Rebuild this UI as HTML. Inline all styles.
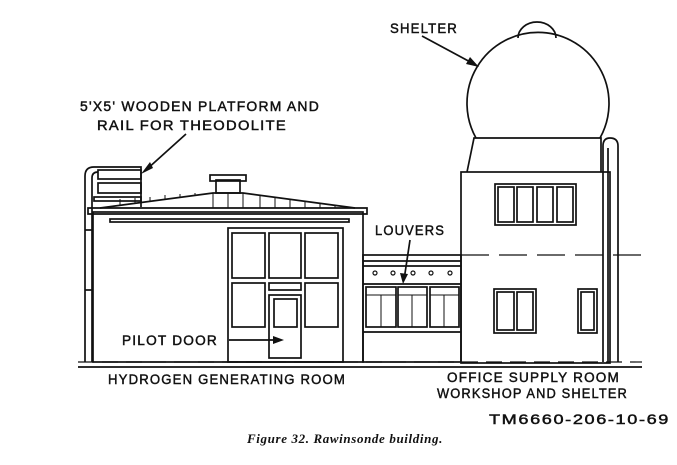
<!DOCTYPE html>
<html><head><meta charset="utf-8"><style>
html,body{margin:0;padding:0;background:#fff;}
svg{display:block}
text{font-family:"Liberation Sans",sans-serif;font-size:13.5px;fill:#111;stroke:#111;stroke-width:0.45;letter-spacing:1.2px}
</style></head><body>
<svg width="677" height="465" viewBox="0 0 677 465" xmlns="http://www.w3.org/2000/svg">
<g fill="none" stroke="#111" stroke-width="1.7">
<line x1="78" y1="367" x2="642" y2="367" stroke-width="1.8"/>
<line x1="78" y1="362" x2="642" y2="362" stroke-dasharray="16,8" stroke-width="1.2"/>
<rect x="93" y="212" width="270" height="150"/>
<path d="M88 208 L367 208 L367 214 L88 214 Z"/>
<path d="M100 208 L213 193 L243 193 L355 208"/>
<g stroke-width="1">
<line x1="120" y1="205" x2="120" y2="199"/><line x1="135" y1="203" x2="135" y2="198"/>
<line x1="150" y1="201" x2="150" y2="197"/><line x1="165" y1="199" x2="165" y2="195"/>
<line x1="180" y1="197" x2="180" y2="194"/><line x1="195" y1="195" x2="195" y2="193"/>
<line x1="228" y1="193" x2="228" y2="208"/><line x1="213" y1="193" x2="213" y2="208"/><line x1="243" y1="193" x2="243" y2="208"/>
<line x1="260" y1="195" x2="260" y2="208"/><line x1="275" y1="197" x2="275" y2="208"/>
<line x1="290" y1="199" x2="290" y2="208"/><line x1="305" y1="201" x2="305" y2="208"/>
<line x1="320" y1="203" x2="320" y2="208"/><line x1="335" y1="205" x2="335" y2="208"/>
</g>
<rect x="216" y="180" width="24" height="13"/>
<rect x="210" y="175" width="36" height="6"/>
<rect x="110" y="219" width="239" height="3"/>
<rect x="228" y="228" width="115" height="134"/>
<rect x="232" y="233" width="33" height="45"/><rect x="269" y="233" width="32" height="45"/><rect x="305" y="233" width="33" height="45"/>
<rect x="232" y="283" width="33" height="44"/><rect x="305" y="283" width="33" height="44"/>
<rect x="269" y="283" width="32" height="7"/>
<rect x="269" y="295" width="32" height="63"/>
<rect x="274" y="299" width="23" height="28"/>
<path d="M85 362 L85 176 Q85 167 94 167 L141 167 L141 207"/>
<path d="M92 362 L92 178 Q92 172 98 172"/>
<rect x="98" y="170" width="43" height="9"/>
<rect x="98" y="183" width="43" height="10"/>
<rect x="94" y="197" width="47" height="4"/>
<line x1="85" y1="230" x2="93" y2="230"/><line x1="85" y1="290" x2="93" y2="290"/>
<rect x="363" y="255" width="98" height="107"/>
<line x1="363" y1="261" x2="461" y2="261"/>
<line x1="363" y1="266" x2="461" y2="266"/>
<g stroke-width="1.2">
<circle cx="375" cy="273" r="2"/><circle cx="393" cy="273" r="2"/><circle cx="413" cy="273" r="2"/><circle cx="431" cy="273" r="2"/><circle cx="450" cy="273" r="2"/>
</g>
<line x1="363" y1="284" x2="461" y2="284"/>
<rect x="366" y="287" width="30" height="40"/><rect x="398" y="287" width="29" height="40"/><rect x="430" y="287" width="29" height="40"/>
<g stroke-width="1">
<line x1="366" y1="295" x2="396" y2="295"/><line x1="398" y1="295" x2="427" y2="295"/><line x1="430" y1="295" x2="459" y2="295"/>
<line x1="381" y1="295" x2="381" y2="327"/><line x1="412" y1="295" x2="412" y2="327"/><line x1="444" y1="295" x2="444" y2="327"/>
</g>
<line x1="363" y1="332" x2="461" y2="332"/>
<rect x="461" y="172" width="149" height="191"/>
<path d="M467 172 L474 138 L601 138 L601 172"/>
<path d="M476 138 A71 71 0 1 1 600 138"/>
<path d="M518 38 A19 16 0 0 1 556 38"/>
<rect x="495" y="184" width="81" height="41"/>
<rect x="498" y="187" width="16" height="35"/><rect x="517" y="187" width="16" height="35"/><rect x="537" y="187" width="16" height="35"/><rect x="557" y="187" width="16" height="35"/>
<rect x="494" y="289" width="42" height="44"/>
<rect x="497" y="292" width="17" height="38"/><rect x="517" y="292" width="16" height="38"/>
<rect x="578" y="289" width="19" height="44"/>
<rect x="581" y="292" width="13" height="38"/>
<line x1="461" y1="255" x2="642" y2="255" stroke-dasharray="28,10" stroke-width="1.2"/>
<path d="M603 362 L603 146 Q603 138 610 138 Q618 138 618 146 L618 362"/>
<path d="M608 362 L608 148"/>
<line x1="186" y1="134" x2="146" y2="170"/>
<line x1="422" y1="36" x2="474" y2="64"/>
<line x1="410" y1="240" x2="404" y2="280"/>
<line x1="229" y1="340" x2="276" y2="340"/>
</g>
<g fill="#111">
<polygon points="141,174 150,162 153,168"/>
<polygon points="479,67 466,64 470,57"/>
<polygon points="403,284 400,273 408,274"/>
<polygon points="284,340 273,336 273,344"/>
</g>
<text x="390" y="33" textLength="68" lengthAdjust="spacingAndGlyphs">SHELTER</text>
<text x="80" y="111" textLength="240" lengthAdjust="spacingAndGlyphs">5'X5' WOODEN PLATFORM AND</text>
<text x="97" y="130" textLength="190" lengthAdjust="spacingAndGlyphs">RAIL FOR THEODOLITE</text>
<text x="375" y="235" textLength="70" lengthAdjust="spacingAndGlyphs">LOUVERS</text>
<text x="122" y="345" textLength="96" lengthAdjust="spacingAndGlyphs">PILOT DOOR</text>
<text x="108" y="384" textLength="238" lengthAdjust="spacingAndGlyphs">HYDROGEN GENERATING ROOM</text>
<text x="447" y="382" textLength="173" lengthAdjust="spacingAndGlyphs">OFFICE SUPPLY ROOM</text>
<text x="437" y="398" textLength="191" lengthAdjust="spacingAndGlyphs">WORKSHOP AND SHELTER</text>
<text x="489" y="424" textLength="181" lengthAdjust="spacingAndGlyphs">TM6660-206-10-69</text>
<text x="247" y="443" textLength="196" lengthAdjust="spacingAndGlyphs" style="font-family:'Liberation Serif',serif;font-style:italic;font-weight:bold;font-size:12.5px;letter-spacing:0.6px;stroke:none">Figure 32.   Rawinsonde building.</text>
</svg>
</body></html>
